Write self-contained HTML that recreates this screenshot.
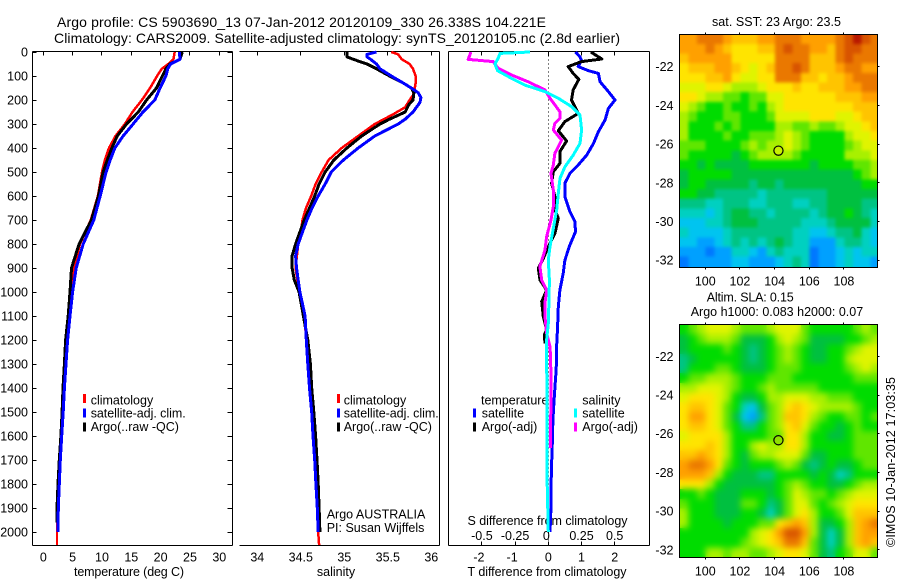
<!DOCTYPE html>
<html lang="en">
<head>
<meta charset="utf-8">
<title>Argo profile CS 5903690_13</title>
<style>
html,body{margin:0;padding:0;background:#fff;width:900px;height:580px;overflow:hidden}
svg{display:block}
text{font-family:"Liberation Sans",Arial,sans-serif;font-size:12.5px;fill:#000}
</style>
</head>
<body>
<svg id="chart" xmlns="http://www.w3.org/2000/svg" width="900" height="580" viewBox="0 0 900 580">
<defs>
<filter id="blur-sst" x="-5%" y="-5%" width="110%" height="110%" color-interpolation-filters="sRGB"><feGaussianBlur stdDeviation="1.6"/></filter>
<filter id="blur-sla" x="-5%" y="-5%" width="110%" height="110%" color-interpolation-filters="sRGB"><feGaussianBlur stdDeviation="3.2"/></filter>
<clipPath id="clip-sst"><rect x="680" y="35" width="197" height="232"/></clipPath>
<clipPath id="clip-sla"><rect x="680" y="325" width="197" height="232"/></clipPath>
</defs>
<rect x="0" y="0" width="900" height="580" fill="#fff"/>
<text x="57" y="27" font-size="14" textLength="489" lengthAdjust="spacing" style="font-size:14px">Argo profile: CS 5903690_13 07-Jan-2012 20120109_330 26.338S 104.221E</text>
<text x="54" y="43" textLength="566" lengthAdjust="spacing" style="font-size:14px">Climatology: CARS2009. Satellite-adjusted climatology: synTS_20120105.nc (2.8d earlier)</text>

<text x="74" y="576" textLength="110" lengthAdjust="spacing">temperature (deg C)</text>
<text x="336" y="576" text-anchor="middle">salinity</text>
<text x="467.5" y="576" textLength="159" lengthAdjust="spacing">T difference from climatology</text>
<text x="467.5" y="525" textLength="160" lengthAdjust="spacing">S difference from climatology</text>

<text x="90.7" y="404.5">climatology</text>
<text x="90.7" y="417.5" textLength="95" lengthAdjust="spacing">satellite-adj. clim.</text>
<text x="90.7" y="431">Argo(..raw -QC)</text>

<text x="343.7" y="404.5">climatology</text>
<text x="343.7" y="417.5" textLength="95" lengthAdjust="spacing">satellite-adj. clim.</text>
<text x="343.7" y="431">Argo(..raw -QC)</text>
<text x="326.7" y="518.5">Argo AUSTRALIA</text>
<text x="326.7" y="532">PI: Susan Wijffels</text>

<text x="481" y="404.5">temperature</text>
<text x="481.7" y="417.5">satellite</text>
<text x="481.7" y="431">Argo(-adj)</text>
<text x="582.3" y="404.5">salinity</text>
<text x="582.3" y="417.5">satellite</text>
<text x="582.3" y="431">Argo(-adj)</text>

<text x="776.5" y="26" text-anchor="middle" textLength="129" lengthAdjust="spacing">sat. SST: 23  Argo: 23.5</text>
<text x="706.7" y="301.5" textLength="87" lengthAdjust="spacing">Altim. SLA: 0.15</text>
<text x="690.7" y="316" textLength="172.5" lengthAdjust="spacing">Argo h1000: 0.083 h2000: 0.07</text>
<text transform="translate(895 547) rotate(-90)" textLength="170" lengthAdjust="spacing">©IMOS 10-Jan-2012 17:03:35</text>
</svg>

<script>
// Panel 1: temperature profiles
const depthsTempRed = [0,30,50,70,100,150,200,250,300,350,400,450,500,600,700,800,900,1000,1100,1200,1300,1400,1500,1600,1700,1800,1900,2000,2054];
const tempClimatology = [22.4,22.2,21.3,20.2,19.4,18.2,16.8,15.2,13.9,12.3,11.2,10.5,10,9.3,8.1,6.25,5.2,4.8,4.5,4,3.75,3.5,3.25,3.05,2.8,2.6,2.42,2.33,2.33];
const depthsTempBlack = [0,30,50,70,100,150,200,250,300,350,400,450,500,600,700,800,900,1000,1100,1200,1300,1400,1500,1600,1700,1800,1900,1960];
const tempArgo = [23.7,23.3,21.6,20.9,20.3,19.3,17.6,16.2,14.2,12.6,11.7,10.9,10.2,9.4,8.2,6.1,4.8,4.55,4.25,3.8,3.6,3.36,3.2,3,2.73,2.5,2.33,2.3];
const depthsTempBlue = [0,30,50,70,100,150,200,250,300,350,400,450,500,600,700,800,900,1000,1100,1200,1300,1400,1500,1600,1700,1800,1900,2000];
const tempSatellite = [23.2,23.3,21.7,21.2,20.9,19.9,19,17,15.3,13.6,12.2,11.4,10.7,9.7,8.6,6.8,5.6,5,4.55,4.15,3.87,3.6,3.4,3.13,2.9,2.73,2.56,2.5];

// Panel 2: salinity profiles
const depthsSalRed = [0,10,30,50,70,100,130,150,180,200,230,260,300,350,400,450,500,550,600,650,700,750,800,900,1000,1100,1200,1300,1400,1500,1600,1700,1800,1900,2000,2054];
const salClimatology = [35.54,35.62,35.66,35.75,35.79,35.82,35.82,35.81,35.79,35.75,35.7,35.56,35.35,35.16,34.97,34.82,34.74,34.67,34.62,34.56,34.52,34.5,34.47,34.44,34.48,34.53,34.57,34.59,34.61,34.63,34.65,34.66,34.68,34.69,34.7,34.71];
const depthsSalBlack = [0,10,20,30,50,70,100,130,150,170,200,220,250,280,300,350,400,450,500,550,600,650,700,750,800,850,900,950,1000,1100,1200,1300,1400,1500,1600,1700,1800,1900,2000];
const salArgo = [35.03,35.03,35.03,35.1,35.26,35.37,35.52,35.68,35.77,35.8,35.79,35.74,35.7,35.52,35.41,35.2,35.03,34.88,34.78,34.71,34.66,34.6,34.54,34.49,34.44,34.4,34.4,34.425,34.48,34.53,34.58,34.61,34.625,34.65,34.67,34.686,34.7,34.71,34.72];
const depthsSalBlue = [0,10,20,30,50,70,100,130,150,170,190,210,230,250,280,300,350,400,450,500,550,600,650,700,750,800,850,900,950,1000,1100,1200,1300,1400,1500,1600,1700,1800,1900,2000];
const salSatellite = [35.37,35.26,35.26,35.3,35.37,35.41,35.54,35.68,35.77,35.85,35.88,35.87,35.83,35.79,35.7,35.62,35.35,35.16,34.99,34.85,34.78,34.7,34.63,34.57,34.52,34.47,34.44,34.45,34.47,34.49,34.55,34.563,34.58,34.6,34.625,34.64,34.66,34.674,34.69,34.7];

// Panel 3: differences from climatology
const depthsDiffTSat = [0,19,36,61,78,89,124,165,200,235,283,332,381,429,471,506,547,603,665,707,749,804,867,922,992,1061,1144,1228,1283,1339,1436,1533,1630,1755,1894,2000];
const diffTSatellite = [0.82,0.95,1,0.9,1.21,1.51,1.56,1.81,2.01,1.81,1.71,1.51,1.36,1.16,0.9,0.65,0.5,0.5,0.65,0.8,0.82,0.65,0.5,0.45,0.35,0.3,0.28,0.25,0.25,0.23,0.18,0.14,0.12,0.09,0.08,0.05];
const depthsDiffTArgo = [0,29,40,61,89,114,158,200,256,290,328,371,415,464,499,547,603,658,693,756,811,860,901,950,992,1040,1103,1158,1179,1214];
const diffTArgo = [1.28,1.61,1,0.6,0.75,0.92,0.75,0.7,0.9,0.5,0.3,0.55,0.35,0.35,0.15,0.1,0.2,0.2,0.3,0.2,0,-0.15,-0.3,-0.25,-0.05,-0.2,-0.15,-0.05,-0.12,-0.1];
const depthsDiffSSat = [0,6,26,50,78,110,138,165,193,228,263,325,381,429,478,526,589,658,735,811,867,950,1033,1131,1200,1283,1500,1800,2000];
const diffSSatellite = [-0.138,-0.364,-0.377,-0.402,-0.382,-0.276,-0.176,-0.025,0.075,0.176,0.239,0.251,0.239,0.188,0.126,0.088,0.075,0.063,0.038,0.013,0,0.008,0.005,0,-0.013,-0.013,-0.008,-0.008,0];
const depthsDiffSArgo = [0,31,40,50,68,96,124,158,193,249,276,297,325,367,422,471,506,575,644,700,769,825,894,950,992,1047,1103,1172,1228,1283,1436,1650];
const diffSArgo = [-0.583,-0.603,-0.415,-0.402,-0.377,-0.276,-0.151,-0.025,0.013,0.088,0.088,0.05,0.038,0.1,0.05,0.038,0.02,0.038,0.038,0.02,-0.013,-0.025,-0.063,-0.05,-0.013,-0.025,-0.025,-0.013,0.013,0.018,0.02,0.015];

// Tick labels
const depthTicks = [0,100,200,300,400,500,600,700,800,900,1000,1100,1200,1300,1400,1500,1600,1700,1800,1900,2000];
const tempTicks = [0,5,10,15,20,25,30];
const salTicks = ['34','34.5','35','35.5','36'];
const diffTTicks = ['-2','-1','0','1','2'];
const diffSTicks = ['-0.5','-0.25','0','0.25','0.5'];
const lonTicks = [100,102,104,106,108];
const latTicks = [-22,-24,-26,-28,-30,-32];

// Profile position
const profileLon = 104.221;
const profileLat = -26.338;

// Map cell values: colour-scale index, 0 = blue ... 15 = dark red; 0.5 degree cells
const sstGrid = [
[12,12,13,13,13,12,11,11,11,12,12,13,13,13,12,12,12,12,13,14,15,14,13],
[12,12,12,13,12,11,10,10,10,11,11,13,14,13,13,12,12,11,13,14,14,13,13],
[11,12,12,12,12,12,10,10,10,10,10,13,13,13,13,11,11,11,13,14,13,13,13],
[10,11,11,11,12,12,11,10,9,10,11,13,13,14,13,11,11,11,12,13,13,12,12],
[10,10,10,11,11,12,10,9,9,10,10,13,13,13,11,11,10,11,11,12,13,13,13],
[9,9,9,10,10,9,8,8,8,9,10,10,10,11,10,10,11,11,11,12,12,13,13],
[10,10,9,8,8,7,7,6,7,7,9,9,10,10,10,10,10,10,11,11,11,12,12],
[9,8,7,6,6,7,6,6,7,6,8,9,10,10,10,10,10,10,10,10,11,11,11],
[8,7,6,6,6,7,7,6,6,6,7,9,9,9,9,10,10,10,9,9,10,11,11],
[8,6,6,6,7,6,7,6,6,6,6,8,8,7,7,8,7,7,8,9,9,10,11],
[8,6,6,6,6,7,6,6,7,7,7,8,9,8,7,6,6,6,6,8,9,9,10],
[7,7,7,6,6,6,6,7,8,7,8,8,9,8,7,6,6,6,6,7,8,9,9],
[7,6,6,6,6,6,5,6,7,8,8,8,8,7,6,6,6,6,6,8,8,8,9],
[6,6,5,6,5,5,5,5,6,6,6,6,6,6,6,5,6,6,6,6,7,7,8],
[5,6,6,6,6,6,5,5,5,5,5,5,5,5,5,5,5,5,5,5,6,7,8],
[5,6,6,5,5,5,5,5,4,5,5,4,5,5,5,5,5,5,5,5,5,6,6],
[6,6,5,5,4,4,4,4,4,3,4,4,4,4,4,4,4,5,5,5,5,5,5],
[4,4,4,3,3,4,4,4,3,3,4,4,4,3,3,4,4,5,5,5,5,4,4],
[3,3,3,2,3,4,5,5,4,4,3,4,4,4,4,3,4,5,5,6,5,4,3],
[2,2,2,3,3,4,5,5,5,4,4,4,4,4,3,3,3,4,5,5,5,5,3],
[3,2,2,2,2,3,4,4,4,4,4,4,4,3,3,2,2,3,4,4,5,3,2],
[2,2,1,1,2,3,4,3,4,3,4,5,4,3,3,1,1,1,3,4,4,3,2],
[1,1,1,0,1,1,3,3,2,1,3,4,3,3,3,0,1,1,2,3,2,3,3],
[0,1,1,1,1,1,2,2,1,1,1,2,3,4,3,0,1,1,2,3,2,2,1]
];
const slaGrid = [
[6,7,8,9,9,9,8,7,7,7,8,9,9,9,7,6,6,6,6,6,7,8,7],
[5,6,7,8,8,8,7,5,5,5,6,8,9,8,7,5,5,5,5,6,6,7,8],
[5,6,6,6,6,7,6,5,4,5,6,7,8,7,6,5,5,6,6,7,8,9,9],
[4,5,6,6,6,6,6,5,4,5,6,7,8,7,6,5,5,6,6,8,9,9,9],
[4,6,6,6,7,7,6,5,5,5,6,7,7,7,6,6,6,6,6,7,8,9,8],
[6,7,7,8,8,8,7,6,6,6,7,7,7,6,6,6,6,6,6,6,7,7,7],
[8,8,9,9,9,8,7,6,6,7,8,7,7,7,7,7,6,6,6,6,6,6,6],
[9,10,10,10,9,8,6,5,5,6,8,8,9,9,9,8,8,7,7,7,6,6,6],
[10,11,11,10,9,7,6,3,2,5,7,8,10,11,10,9,8,8,8,8,7,6,6],
[10,12,12,10,9,7,5,2,1,4,7,8,11,11,10,8,7,6,6,7,7,6,7],
[10,11,11,10,9,7,6,4,4,6,7,8,10,11,9,7,6,6,5,6,7,6,6],
[9,10,10,10,10,8,6,6,6,6,7,7,10,10,8,6,6,5,5,6,7,7,7],
[10,10,10,11,10,8,6,6,8,9,8,8,10,10,8,6,6,6,6,6,7,7,7],
[11,11,12,11,10,8,6,5,7,8,8,9,9,9,7,5,5,6,6,6,7,7,7],
[12,13,13,12,10,7,6,5,6,6,6,7,8,7,5,4,5,6,5,5,6,7,7],
[12,12,12,11,8,6,5,5,5,4,4,6,6,6,6,5,6,5,3,4,6,6,6],
[10,10,10,8,6,5,5,5,5,5,5,6,7,8,7,6,6,5,5,6,7,8,8],
[6,6,7,6,5,5,5,6,6,6,5,6,7,9,8,7,7,6,7,8,9,9,9],
[7,6,6,6,5,5,5,7,7,6,4,5,7,9,9,7,6,7,8,9,10,10,10],
[8,6,6,6,5,5,5,6,6,5,3,5,7,9,10,8,6,6,7,9,11,11,11],
[8,6,6,6,6,5,6,6,6,7,7,10,11,12,11,8,5,5,6,8,11,12,13],
[6,6,6,6,6,6,6,6,8,9,10,12,14,14,12,8,5,3,5,8,11,12,12],
[6,6,6,6,6,6,6,7,8,9,10,11,13,13,11,7,5,3,5,8,11,12,11],
[6,6,6,8,8,7,8,8,7,7,8,9,10,10,9,7,5,4,6,7,9,9,7]
];
const mapPalette = ['#0078ff','#00a0ff','#00c4f0','#00d0c0','#00c484','#00c040','#00dc00','#60e600','#a8f000','#e0f400','#ffe400','#ffc400','#ffa000','#ea7800','#d85400','#b81800'];

// Axis functions
const plotTop = 51.5, plotBottom = 545.5;
function yDepth(d){ return 52 + d * 0.24; }
function xTemp(t){ return 43.3 + t * 5.867; }
function xSal(s){ return 257.3 + (s - 34) * 87; }
function xDiffT(t){ return 548.3 + t * 33.2; }
function xDiffS(s){ return 548.3 + s * 4 * 33.2; }
function lonX(lon){ return 705.3 + (lon - 100) * 17.33; }
function latY1(lat){ return 66.7 + (-22 - lat) * 19.35; }
function latY2(lat){ return 356.3 + (-22 - lat) * 19.35; }

const svg = document.getElementById('chart');
const NS = 'http://www.w3.org/2000/svg';

function hline(x1, y1, x2, y2, name){
  const el = document.createElementNS(NS, 'line');
  el.setAttribute('x1', x1); el.setAttribute('y1', y1);
  el.setAttribute('x2', x2); el.setAttribute('y2', y2);
  el.setAttribute('stroke', '#000'); el.setAttribute('stroke-width', 1);
  el.setAttribute('shape-rendering', 'crispEdges');
  
  
  svg.appendChild(el);
  return el;
}
function label(x, y, str, anchor, name){
  const el = document.createElementNS(NS, 'text');
  el.setAttribute('x', x); el.setAttribute('y', y);
  el.setAttribute('text-anchor', anchor);
  el.textContent = str;
  
  
  svg.appendChild(el);
}
function profile(xs, ys, colour, width, name){
  const el = document.createElementNS(NS, 'polyline');
  el.setAttribute('points', xs.map((v, i) => v.toFixed(1) + ',' + ys[i].toFixed(1)).join(' '));
  el.setAttribute('fill', 'none');
  el.setAttribute('stroke', colour);
  el.setAttribute('stroke-width', width);
  el.setAttribute('stroke-linejoin', 'round');
  el.setAttribute('shape-rendering', 'crispEdges');
  
  
  svg.appendChild(el);
}
function swatch(x, y, colour, name){
  const el = document.createElementNS(NS, 'rect');
  el.setAttribute('x', x); el.setAttribute('y', y);
  el.setAttribute('width', 3); el.setAttribute('height', 9);
  el.setAttribute('fill', colour);
  
  
  svg.appendChild(el);
}

// Panel 1 frame
hline(32.5, plotTop, 232.5, plotTop, 'temperature-top-axis');
hline(32.5, plotBottom, 232.5, plotBottom, 'temperature-bottom-axis');
hline(32.5, plotTop, 32.5, plotBottom, 'depth-axis-left');
hline(232.5, plotTop, 232.5, plotBottom, 'depth-axis-right');
depthTicks.forEach(d => {
  const y = Math.floor(yDepth(d)) + 0.5;
  hline(32.5, y, 36.5, y, 'depth-tick-left');
  hline(227.5, y, 232.5, y, 'depth-tick-right');
  label(28, yDepth(d) + 4.5, String(d), 'end', 'depth-tick-label');
});
tempTicks.forEach(t => {
  const x = Math.floor(xTemp(t)) + 0.5;
  hline(x, plotTop, x, plotTop + 4, 'temperature-tick');
  label(xTemp(t), 561.5, String(t), 'middle', 'temperature-tick-label');
});

// Panel 2 frame
hline(239.5, plotTop, 439.5, plotTop, 'salinity-top-axis');
hline(239.5, plotBottom, 439.5, plotBottom, 'salinity-bottom-axis');
hline(439.5, plotTop, 439.5, plotBottom, 'salinity-right-axis');
salTicks.forEach(s => {
  const x = Math.floor(xSal(parseFloat(s))) + 0.5;
  hline(x, plotTop, x, plotTop + 4, 'salinity-tick');
  label(xSal(parseFloat(s)), 561.5, s, 'middle', 'salinity-tick-label');
});

// Panel 3 frame
hline(448.5, plotTop, 649.5, plotTop, 'difference-top-axis');
hline(448.5, plotBottom, 649.5, plotBottom, 'difference-bottom-axis');
hline(448.5, plotTop, 448.5, plotBottom, 'difference-left-axis');
hline(649.5, plotTop, 649.5, plotBottom, 'difference-right-axis');
diffTTicks.forEach((t, i) => {
  const v = parseFloat(t);
  const x = Math.floor(xDiffT(v)) + 0.5;
  hline(x, plotTop, x, plotTop + 4, 'difference-top-tick');
  hline(x, plotBottom - 4, x, plotBottom, 'difference-bottom-tick');
  label(xDiffT(v) - (v < 0 ? 3 : 0), 561.5, t, 'middle', 'difference-t-tick-label');
  const s = parseFloat(diffSTicks[i]);
  label(xDiffS(s) + (s === 0 ? -2 : 0), 540, diffSTicks[i], 'middle', 'difference-s-tick-label');
});
const zero = hline(548.5, plotTop, 548.5, plotBottom, 'zero-difference-line');
zero.setAttribute('stroke-dasharray', '1 3');

// Profile curves
profile(tempClimatology.map(xTemp), depthsTempRed.map(yDepth), '#ff0000', 2.5, 'temperature-climatology-line');
profile(tempArgo.map(xTemp), depthsTempBlack.map(yDepth), '#000000', 3, 'temperature-argo-line');
profile(tempSatellite.map(xTemp), depthsTempBlue.map(yDepth), '#0000ff', 3, 'temperature-satellite-line');

profile(salClimatology.map(xSal), depthsSalRed.map(yDepth), '#ff0000', 2.5, 'salinity-climatology-line');
profile(salArgo.map(xSal), depthsSalBlack.map(yDepth), '#000000', 3, 'salinity-argo-line');
profile(salSatellite.map(xSal), depthsSalBlue.map(yDepth), '#0000ff', 3, 'salinity-satellite-line');

profile(diffTSatellite.map(xDiffT), depthsDiffTSat.map(yDepth), '#0000ff', 3, 'difference-t-satellite-line');
profile(diffTArgo.map(xDiffT), depthsDiffTArgo.map(yDepth), '#000000', 3, 'difference-t-argo-line');
profile(diffSArgo.map(xDiffS), depthsDiffSArgo.map(yDepth), '#ff00ff', 3, 'difference-s-argo-line');
profile(diffSSatellite.map(xDiffS), depthsDiffSSat.map(yDepth), '#00ffff', 3, 'difference-s-satellite-line');

// Legend swatches
swatch(83, 394, '#ff0000', 'legend-swatch-climatology');
swatch(83, 408.5, '#0000ff', 'legend-swatch-satellite');
swatch(83, 422.5, '#000000', 'legend-swatch-argo');
swatch(337, 394, '#ff0000', 'salinity-legend-swatch-climatology');
swatch(337, 408.5, '#0000ff', 'salinity-legend-swatch-satellite');
swatch(337, 422.5, '#000000', 'salinity-legend-swatch-argo');
swatch(473, 408.5, '#0000ff', 'difference-legend-swatch-t-satellite');
swatch(473, 422.5, '#000000', 'difference-legend-swatch-t-argo');
swatch(574, 408.5, '#00ffff', 'difference-legend-swatch-s-satellite');
swatch(574, 422.5, '#ff00ff', 'difference-legend-swatch-s-argo');

// Maps
function drawMap(grid, latY, top, bottom, markerFill, prefix){
  const lonStart = 98.52, latStart = latY === latY1 ? -20.32 : -20.37;
  const group = document.createElementNS(NS, 'g');
  
  
  group.setAttribute('clip-path', 'url(#clip-' + prefix + ')');
  svg.appendChild(group);
  const base = document.createElementNS(NS, 'g');
  
  
  group.appendChild(base);
  grid.forEach((row, j) => {
    row.forEach((v, i) => {
      const x0 = lonX(lonStart + i * 0.5), x1 = lonX(lonStart + (i + 1) * 0.5);
      const y0 = latY(latStart - j * 0.5), y1 = latY(latStart - (j + 1) * 0.5);
      const cell = document.createElementNS(NS, 'rect');
      cell.setAttribute('x', x0.toFixed(2));
      cell.setAttribute('y', y0.toFixed(2));
      cell.setAttribute('width', (x1 - x0 + 0.4).toFixed(2));
      cell.setAttribute('height', (y1 - y0 + 0.4).toFixed(2));
      cell.setAttribute('fill', mapPalette[Math.max(0, Math.min(15, Math.round(v)))]);
      cell.setAttribute('shape-rendering', 'crispEdges');
      
      
      base.appendChild(cell);
    });
  });
  const soft = base.cloneNode(true);
  
  soft.setAttribute('filter', 'url(#blur-' + prefix + ')');
  group.appendChild(soft);
  const frame = document.createElementNS(NS, 'rect');
  frame.setAttribute('x', 679.5);
  frame.setAttribute('y', top);
  frame.setAttribute('width', 198);
  frame.setAttribute('height', bottom - top);
  frame.setAttribute('fill', 'none');
  frame.setAttribute('stroke', '#000');
  frame.setAttribute('shape-rendering', 'crispEdges');
  
  
  svg.appendChild(frame);
  lonTicks.forEach(lon => {
    const x = Math.floor(lonX(lon)) + 0.5;
    hline(x, top - 2, x, top, prefix + '-longitude-tick');
    hline(x, bottom, x, bottom + 2, prefix + '-longitude-tick-bottom');
    label(lonX(lon), bottom + 18, String(lon), 'middle', prefix + '-longitude-label');
  });
  latTicks.forEach(lat => {
    const y = Math.floor(latY(lat)) + 0.5;
    hline(877.5, y, 879.5, y, prefix + '-latitude-tick');
    label(673.5, latY(lat) + 4.5, String(lat), 'end', prefix + '-latitude-label');
  });
  const marker = document.createElementNS(NS, 'circle');
  marker.setAttribute('cx', lonX(profileLon));
  marker.setAttribute('cy', latY(profileLat));
  marker.setAttribute('r', 4.6);
  marker.setAttribute('fill', markerFill);
  marker.setAttribute('stroke', '#000');
  marker.setAttribute('stroke-width', 1.2);
  
  
  svg.appendChild(marker);
}
drawMap(sstGrid, latY1, 34.5, 267.5, '#c8f000', 'sst');
drawMap(slaGrid, latY2, 324.5, 557.5, '#90e000', 'sla');
</script>
</body>
</html>
